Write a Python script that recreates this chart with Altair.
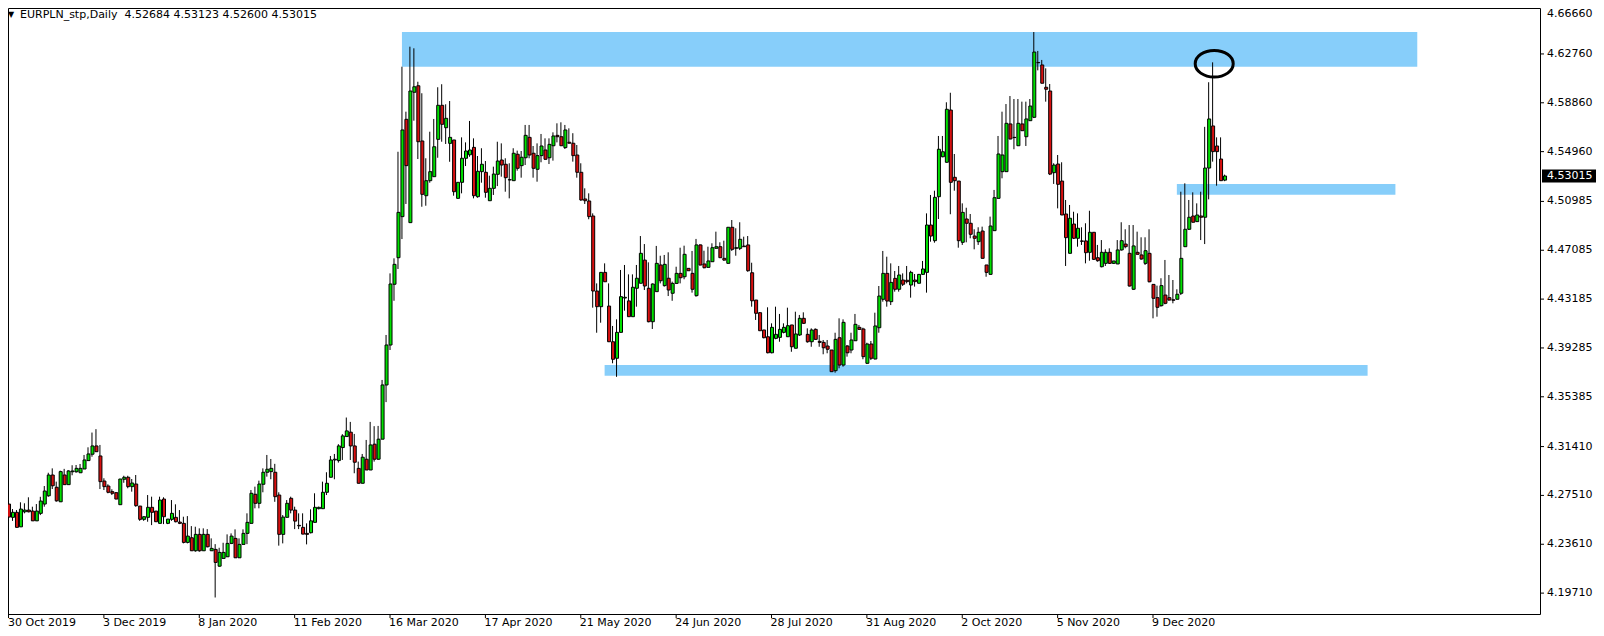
import altair as alt
import pandas as pd

# ---------------- data ----------------
opens = [
4.2682,4.2576,4.2616,4.2500,4.2620,4.2634,4.2626,4.2548,4.2608,4.2682,
4.2748,4.2914,4.2816,4.2700,4.2914,4.2837,4.2940,4.2940,4.2932,4.2962,
4.3029,4.3080,4.3146,4.3066,4.2866,4.2826,4.2781,4.2773,4.2677,4.2880,
4.2896,4.2821,4.2842,4.2666,4.2560,4.2576,4.2656,4.2626,4.2528,4.2722,
4.2528,4.2560,4.2576,4.2538,4.2528,4.2376,4.2413,4.2309,4.2440,4.2309,
4.2440,4.2309,4.2320,4.2186,4.2248,4.2261,4.2368,4.2408,4.2253,4.2360,
4.2448,4.2528,4.2760,4.2688,4.2840,4.2936,4.2941,4.2936,4.2754,4.2440,
4.2576,4.2728,4.2634,4.2512,4.2496,4.2448,4.2453,4.2536,4.2645,4.2645,
4.2776,4.2896,4.3034,4.3029,4.3133,4.3221,4.3256,4.3146,4.2967,4.2848,
4.3040,4.2954,4.3160,4.3040,4.3200,4.3633,4.3952,4.4437,4.4649,4.4977,
4.5754,4.4929,4.5970,4.6022,4.5581,4.5144,4.5264,4.5296,4.5594,4.5866,
4.5687,4.5562,4.5589,4.5123,4.5251,4.5443,4.5471,4.5530,4.5136,4.5336,
4.5331,4.5104,4.5203,4.5315,4.5429,4.5395,4.5272,4.5264,4.5475,4.5384,
4.5447,4.5610,4.5483,4.5355,4.5464,4.5509,4.5447,4.5543,4.5626,4.5615,
4.5528,4.5571,4.5563,4.5469,4.5331,4.5118,4.5102,4.4982,4.4383,4.4258,
4.4532,4.4263,4.3978,4.3846,4.4053,4.4327,4.4304,4.4178,4.4405,4.4445,
4.4630,4.4405,4.4138,4.4378,4.4591,4.4426,4.4485,4.4365,4.4444,4.4524,
4.4497,4.4564,4.4524,4.4346,4.4751,4.4599,4.4572,4.4617,4.4724,4.4737,
4.4644,4.4604,4.4892,4.4724,4.4724,4.4742,4.4751,4.4529,4.4311,4.4210,
4.4072,4.4018,4.3890,4.4005,4.4013,4.4053,4.4018,4.4112,4.3926,4.4032,
4.4165,4.4037,4.3978,4.4077,4.3981,4.3973,4.3944,4.3912,4.3747,4.4010,
4.3792,4.3944,4.3912,4.3986,4.4093,4.4080,4.3806,4.3960,4.3840,4.4090,
4.4317,4.4524,4.4298,4.4484,4.4397,4.4471,4.4469,4.4431,4.4471,4.4445,
4.4516,4.4532,4.4910,4.4785,4.5136,4.5455,4.5411,4.5828,4.5291,4.5261,
4.4772,4.4958,4.4924,4.4822,4.4777,4.4862,4.4591,4.4516,4.4865,4.5123,
4.5336,4.5336,4.5717,4.5610,4.5543,4.5717,4.5615,4.5743,4.5770,4.6208,
4.6188,4.6010,4.5980,4.5328,4.5397,4.5261,4.4998,4.4684,4.4918,4.4804,
4.4783,4.4783,4.4692,4.4852,4.4649,4.4577,4.4604,4.4692,4.4604,4.4599,
4.4711,4.4758,4.4684,4.4397,4.4692,4.4671,4.4604,4.4684,4.4436,4.4330,
4.4266,4.4351,4.4330,4.4313,4.4317,4.4365,4.4737,4.4876,4.4982,4.4937,
4.4982,4.4972,4.5365,4.5701,4.5541,4.5437,4.52684]

highs = [
4.2706,4.2642,4.2634,4.2696,4.2688,4.2736,4.2661,4.2682,4.2740,4.2826,
4.2932,4.2967,4.2861,4.2949,4.2963,4.2954,4.2992,4.2994,4.3002,4.3074,
4.3135,4.3253,4.3280,4.3154,4.2888,4.2840,4.2800,4.2773,4.2882,4.2908,
4.2908,4.2882,4.2914,4.2666,4.2581,4.2754,4.2741,4.2626,4.2741,4.2736,
4.2562,4.2714,4.2680,4.2634,4.2581,4.2586,4.2506,4.2501,4.2488,4.2488,
4.2482,4.2408,4.2362,4.2333,4.2373,4.2440,4.2448,4.2480,4.2408,4.2480,
4.2608,4.2794,4.2821,4.2869,4.2967,4.3074,4.3042,4.3003,4.2776,4.2594,
4.2714,4.2741,4.2661,4.2608,4.2608,4.2528,4.2640,4.2768,4.2661,4.2861,
4.2936,4.3066,4.3082,4.3160,4.3240,4.3373,4.3338,4.3242,4.3021,4.3082,
4.3194,4.3338,4.3304,4.3306,4.3673,4.4032,4.4524,4.4644,4.5495,4.6174,
4.5815,4.6334,4.6321,4.6054,4.5962,4.5443,4.5655,4.5757,4.6010,4.6034,
4.5874,4.5900,4.5589,4.5251,4.5610,4.5570,4.5741,4.5602,4.5461,4.5523,
4.5421,4.5304,4.5376,4.5575,4.5562,4.5443,4.5403,4.5523,4.5504,4.5501,
4.5709,4.5709,4.5541,4.5562,4.5637,4.5602,4.5602,4.5650,4.5722,4.5730,
4.5709,4.5682,4.5643,4.5549,4.5403,4.5203,4.5163,4.5003,4.4444,4.4532,
4.4604,4.4444,4.4104,4.4157,4.4551,4.4591,4.4516,4.4516,4.4591,4.4822,
4.4758,4.4612,4.4444,4.4743,4.4665,4.4671,4.4692,4.4458,4.4577,4.4729,
4.4745,4.4564,4.4703,4.4799,4.4756,4.4705,4.4737,4.4764,4.4857,4.4772,
4.4785,4.4892,4.4950,4.4884,4.4932,4.4817,4.4822,4.4609,4.4311,4.4213,
4.4072,4.4253,4.4125,4.4258,4.4200,4.4125,4.4250,4.4112,4.4218,4.4192,
4.4213,4.4085,4.4085,4.4085,4.4032,4.3992,4.3992,4.3912,4.4050,4.4165,
4.4157,4.3952,4.4050,4.4200,4.4112,4.4090,4.3970,4.3984,4.4210,4.4423,
4.4703,4.4657,4.4604,4.4543,4.4583,4.4524,4.4583,4.4545,4.4519,4.4519,
4.4623,4.5003,4.5150,4.5184,4.5621,4.5621,4.5890,4.5966,4.5477,4.5261,
4.5083,4.5048,4.4998,4.4876,4.4892,4.4897,4.4591,4.4977,4.5190,4.5621,
4.5815,4.5876,4.5940,4.5916,4.5916,4.5895,4.5895,4.5916,4.6451,4.6300,
4.6228,4.6161,4.6036,4.5403,4.5469,4.5411,4.5110,4.5070,4.5016,4.5003,
4.4892,4.4924,4.5024,4.4852,4.4751,4.4790,4.4716,4.4724,4.4623,4.4790,
4.4932,4.4876,4.4910,4.4910,4.4857,4.4812,4.4812,4.4876,4.4436,4.4426,
4.4485,4.4631,4.4511,4.4471,4.4397,4.5176,4.5243,4.5110,4.5171,4.5083,
4.5176,4.5694,4.6050,4.6209,4.5610,4.5610,4.53123]

lows = [
4.2546,4.2548,4.2496,4.2500,4.2608,4.2616,4.2548,4.2548,4.2594,4.2661,
4.2740,4.2802,4.2700,4.2700,4.2837,4.2837,4.2912,4.2932,4.2932,4.2962,
4.3029,4.3060,4.3100,4.2802,4.2794,4.2768,4.2754,4.2722,4.2677,4.2852,
4.2808,4.2781,4.2661,4.2548,4.2548,4.2541,4.2514,4.2541,4.2528,4.2522,
4.2522,4.2548,4.2536,4.2522,4.2368,4.2368,4.2309,4.2301,4.2301,4.2309,
4.2336,4.2309,4.1936,4.2181,4.2248,4.2261,4.2362,4.2253,4.2253,4.2360,
4.2362,4.2528,4.2648,4.2648,4.2776,4.2901,4.2880,4.2700,4.2350,4.2368,
4.2576,4.2608,4.2482,4.2482,4.2442,4.2360,4.2448,4.2536,4.2640,4.2645,
4.2754,4.2896,4.2880,4.3013,4.3034,4.3221,4.3034,4.2928,4.2848,4.2848,
4.2954,4.2954,4.3021,4.3034,4.3200,4.3496,4.3912,4.4305,4.4559,4.4798,
4.5078,4.4929,4.5743,4.5437,4.5056,4.5064,4.5248,4.5296,4.5447,4.5575,
4.5557,4.5415,4.5144,4.5123,4.5163,4.5381,4.5455,4.5123,4.5128,4.5248,
4.5128,4.5104,4.5150,4.5221,4.5296,4.5176,4.5123,4.5264,4.5344,4.5288,
4.5389,4.5443,4.5288,4.5256,4.5411,4.5429,4.5397,4.5424,4.5570,4.5543,
4.5517,4.5563,4.5416,4.5288,4.5104,4.5078,4.4956,4.4250,4.4050,4.4130,
4.4457,4.3978,4.3806,4.3698,4.4053,4.4226,4.4178,4.4178,4.4258,4.4445,
4.4391,4.4133,4.4080,4.4378,4.4444,4.4418,4.4343,4.4305,4.4439,4.4444,
4.4477,4.4545,4.4370,4.4338,4.4586,4.4564,4.4572,4.4617,4.4724,4.4649,
4.4625,4.4604,4.4703,4.4665,4.4710,4.4737,4.4537,4.4258,4.4152,4.4066,
4.4006,4.3886,4.3886,4.3998,4.3978,4.4045,4.4018,4.3898,4.3926,4.4024,
4.4120,4.3970,4.3938,4.3992,4.3938,4.3878,4.3886,4.3739,4.3731,4.3766,
4.3779,4.3859,4.3886,4.3986,4.4072,4.3838,4.3800,4.3832,4.3838,4.4050,
4.4298,4.4258,4.4271,4.4378,4.4378,4.4423,4.4444,4.4330,4.4418,4.4445,
4.4511,4.4370,4.4777,4.4769,4.4958,4.5451,4.5408,4.4996,4.5184,4.4729,
4.4751,4.4772,4.4804,4.4716,4.4751,4.4644,4.4497,4.4516,4.4865,4.5123,
4.5283,4.5336,4.5594,4.5515,4.5543,4.5663,4.5541,4.5743,4.5764,4.6145,
4.6042,4.5895,4.5309,4.5238,4.5043,4.4990,4.4583,4.4684,4.4798,4.4737,
4.4751,4.4604,4.4625,4.4631,4.4617,4.4572,4.4583,4.4599,4.4599,4.4599,
4.4705,4.4724,4.4418,4.4391,4.4676,4.4631,4.4591,4.4452,4.4165,4.4178,
4.4258,4.4277,4.4306,4.4285,4.4317,4.4351,4.4737,4.4870,4.4932,4.4937,
4.4790,4.4758,4.5115,4.5416,4.5224,4.5264,4.52600]

closes = [
4.2578,4.2616,4.2496,4.2642,4.2634,4.2620,4.2548,4.2626,4.2706,4.2786,
4.2914,4.2828,4.2708,4.2941,4.2837,4.2946,4.2946,4.2967,4.2967,4.3034,
4.3082,4.3146,4.3100,4.2861,4.2821,4.2776,4.2768,4.2722,4.2882,4.2896,
4.2821,4.2850,4.2669,4.2560,4.2581,4.2656,4.2616,4.2541,4.2714,4.2581,
4.2562,4.2608,4.2541,4.2528,4.2376,4.2426,4.2309,4.2440,4.2309,4.2440,
4.2341,4.2328,4.2216,4.2296,4.2296,4.2368,4.2426,4.2253,4.2360,4.2448,
4.2536,4.2768,4.2688,4.2842,4.2936,4.2960,4.2967,4.2741,4.2440,4.2578,
4.2688,4.2634,4.2546,4.2508,4.2442,4.2440,4.2548,4.2656,4.2656,4.2776,
4.2848,4.3034,4.3040,4.3146,4.3226,4.3266,4.3146,4.3016,4.2848,4.3056,
4.2954,4.3154,4.3040,4.3200,4.3633,4.3952,4.4439,4.4596,4.5011,4.5669,
4.5384,4.5980,4.6014,4.5575,4.5155,4.5264,4.5336,4.5535,4.5866,4.5714,
4.5762,4.5610,4.5176,4.5251,4.5443,4.5501,4.5509,4.5144,4.5339,4.5395,
4.5171,4.5203,4.5317,4.5421,4.5389,4.5288,4.5270,4.5483,4.5363,4.5451,
4.5626,4.5469,4.5363,4.5464,4.5541,4.5435,4.5554,4.5621,4.5615,4.5543,
4.5669,4.5563,4.5464,4.5331,4.5110,4.5104,4.4977,4.4383,4.4258,4.4532,
4.4457,4.3978,4.3838,4.4053,4.4338,4.4333,4.4178,4.4413,4.4485,4.4684,
4.4423,4.4138,4.4439,4.4604,4.4465,4.4596,4.4391,4.4444,4.4524,4.4489,
4.4676,4.4545,4.4397,4.4751,4.4591,4.4569,4.4623,4.4729,4.4737,4.4649,
4.4630,4.4892,4.4716,4.4729,4.4796,4.4737,4.4545,4.4305,4.4205,4.4066,
4.4010,4.3890,4.4093,4.4037,4.4077,4.4093,4.4106,4.3938,4.4040,4.4165,
4.4125,4.3978,4.4072,4.3997,4.3973,4.3930,4.3918,4.3739,4.3997,4.3792,
4.4133,4.3890,4.3992,4.4117,4.4077,4.3859,4.3960,4.3846,4.4104,4.4343,
4.4524,4.4303,4.4452,4.4397,4.4511,4.4437,4.4458,4.4532,4.4458,4.4516,
4.4559,4.4910,4.4822,4.5131,4.5515,4.5495,4.5834,4.5251,4.5264,4.4785,
4.5011,4.4924,4.4836,4.4804,4.4852,4.4644,4.4532,4.4902,4.5128,4.5477,
4.5469,4.5722,4.5597,4.5608,4.5722,4.5663,4.5757,4.5860,4.6291,4.6206,
4.6042,4.5994,4.5317,4.5389,4.5235,4.4990,4.4809,4.4964,4.4804,4.4884,
4.4780,4.4689,4.4852,4.4636,4.4625,4.4692,4.4692,4.4604,4.4623,4.4711,
4.4785,4.4737,4.4423,4.4743,4.4676,4.4639,4.4705,4.4457,4.4325,4.4253,
4.4426,4.4285,4.4311,4.4309,4.4357,4.4644,4.4876,4.4972,4.4932,4.4990,
4.4972,4.5365,4.5757,4.5496,4.5496,4.5264,4.53015]

date_bars = [0, 24, 48, 72, 96, 120, 144, 168, 192, 216, 240, 264, 288]
date_labels = ["30 Oct 2019", "3 Dec 2019", "8 Jan 2020", "11 Feb 2020", "16 Mar 2020",
               "17 Apr 2020", "21 May 2020", "24 Jun 2020", "28 Jul 2020", "31 Aug 2020",
               "2 Oct 2020", "5 Nov 2020", "9 Dec 2020"]

price_ticks = [4.66660, 4.62760, 4.58860, 4.54960, 4.50985, 4.47085, 4.43185,
               4.39285, 4.35385, 4.31410, 4.27510, 4.23610, 4.19710]

zone_left = [99, 294, 150]
zone_right = [354.5, 349, 342]
zone_top = [4.6451, 4.5238, 4.3792]
zone_bottom = [4.6174, 4.5152, 4.3707]

marker_bar = [303.4]
marker_price = [4.6198]

last_close = 4.53015
header = "EURPLN_stp,Daily\u00a0\u00a04.52684 4.53123 4.52600 4.53015"

# ---------------- chart ----------------
GREEN = "#00E000"
RED = "#D81010"
FONT = "DejaVu Sans"
W, H = 1532, 606

df = pd.DataFrame({"bar": list(range(len(opens))), "open": opens, "high": highs,
                   "low": lows, "close": closes})
df["dir"] = ["up" if c >= o else "down" for o, c in zip(opens, closes)]

xs = alt.Scale(domain=[1.125, 384.125], nice=False, zero=False)
ys = alt.Scale(domain=[4.18042, 4.66428], nice=False, zero=False)

zdf = pd.DataFrame({"x1": zone_left, "x2": zone_right, "y1": zone_top, "y2": zone_bottom})
zones = alt.Chart(zdf).mark_rect(color="#87CEFA").encode(
    x=alt.X("x1:Q", scale=xs, axis=None), x2="x2:Q",
    y=alt.Y("y1:Q", scale=ys, axis=None), y2="y2:Q")

wicks = alt.Chart(df).mark_rule(color="black", strokeWidth=1).encode(
    x=alt.X("bar:Q", scale=xs, axis=None),
    y=alt.Y("low:Q", scale=ys, axis=None), y2="high:Q")

bodies = alt.Chart(df).mark_bar(size=3, xOffset=0.5, stroke="black", strokeWidth=1).encode(
    x=alt.X("bar:Q", scale=xs, axis=None),
    y=alt.Y("open:Q", scale=ys, axis=None), y2="close:Q",
    color=alt.Color("dir:N", scale=alt.Scale(domain=["up", "down"], range=[GREEN, RED]),
                    legend=None))

mdf = pd.DataFrame({"bar": marker_bar, "price": marker_price})
ellipse = alt.Chart(mdf).mark_point(
    shape="M -1 0 A 1 0.7 0 1 0 1 0 A 1 0.7 0 1 0 -1 0 Z",
    size=1444, filled=False, color="black", strokeWidth=3, opacity=1).encode(
    x=alt.X("bar:Q", scale=xs, axis=None),
    y=alt.Y("price:Q", scale=ys, axis=None))

ydf = pd.DataFrame({"price": price_ticks, "label": [f"{v:.5f}" for v in price_ticks]})
yticks = alt.Chart(ydf).mark_rule(color="black").encode(
    x=alt.value(W), x2=alt.value(W + 4),
    y=alt.Y("price:Q", scale=ys, axis=None))
ylabels = alt.Chart(ydf).transform_filter("datum.price < 4.664").mark_text(
    align="left", baseline="middle", fontSize=11, font=FONT, color="black").encode(
    x=alt.value(W + 7), y=alt.Y("price:Q", scale=ys, axis=None), text="label:N")
ytop = alt.Chart(ydf).transform_filter("datum.price > 4.664").mark_text(
    align="left", baseline="middle", fontSize=11, font=FONT, color="black").encode(
    x=alt.value(W + 7), y=alt.value(6), text="label:N")

bdf = pd.DataFrame({"price": [last_close], "label": [f"{last_close:.5f}"]})
box = alt.Chart(bdf).mark_tick(orient="horizontal", size=54, thickness=13,
                               color="black", opacity=1).encode(
    x=alt.value(W + 29), y=alt.Y("price:Q", scale=ys, axis=None))
boxtext = alt.Chart(bdf).mark_text(align="left", baseline="middle", fontSize=11,
                                   font=FONT, color="white").encode(
    x=alt.value(W + 7), y=alt.Y("price:Q", scale=ys, axis=None), text="label:N")

xdf = pd.DataFrame({"bar": date_bars, "label": date_labels})
xticks = alt.Chart(xdf).mark_rule(color="black").encode(
    x=alt.X("bar:Q", scale=xs, axis=None), y=alt.value(H), y2=alt.value(H + 4))
xlabels = alt.Chart(xdf).transform_filter("datum.bar > 0").mark_text(
    align="left", baseline="middle", fontSize=11, font=FONT, color="black", dx=-1).encode(
    x=alt.X("bar:Q", scale=xs, axis=None), y=alt.value(H + 9), text="label:N")
xfirst = alt.Chart(xdf).transform_filter("datum.bar == 0").mark_text(
    align="left", baseline="middle", fontSize=11, font=FONT, color="black").encode(
    x=alt.value(0), y=alt.value(H + 9), text="label:N")

tdf = pd.DataFrame({"tri": ["\u25bc"], "txt": [header]})
tri = alt.Chart(tdf).mark_text(align="left", baseline="middle", fontSize=8,
                               font=FONT, color="black").encode(
    x=alt.value(0), y=alt.value(7), text="tri:N")
title = alt.Chart(tdf).mark_text(align="left", baseline="middle", fontSize=11,
                                 font=FONT, color="black").encode(
    x=alt.value(12), y=alt.value(7), text="txt:N")

chart = alt.layer(
    zones, wicks, bodies, ellipse, yticks, ylabels, ytop, box, boxtext,
    xticks, xlabels, xfirst, tri, title
).properties(
    width=W, height=H,
    padding={"left": 0, "top": 0, "right": 56, "bottom": 14},
    autosize=alt.AutoSizeParams(type="none"),
).configure(background="white").configure_view(stroke="black", strokeWidth=1)

chart.save("out.html", embed_options={"renderer": "svg", "actions": False})
